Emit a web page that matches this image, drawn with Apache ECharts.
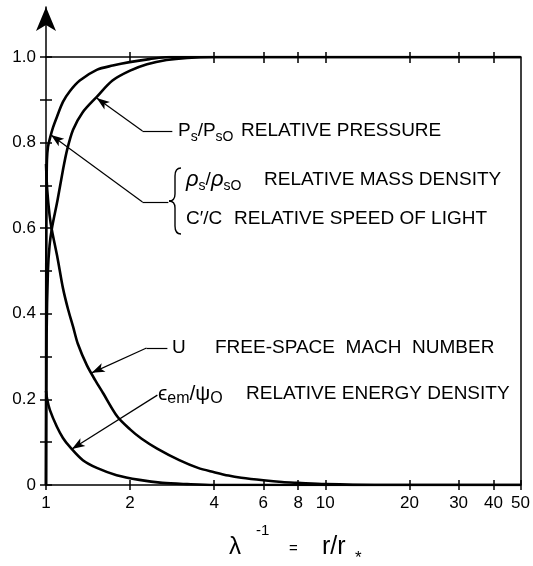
<!DOCTYPE html>
<html><head><meta charset="utf-8">
<script src="https://cdn.jsdelivr.net/npm/echarts@6/dist/echarts.min.js"></script>
<style>html,body{margin:0;padding:0;background:#fff}#c{width:533px;height:566px}</style>
</head><body><div id="c"></div>
<script>
const FONT = '"Liberation Sans", Arial, Helvetica, sans-serif';

// axis ticks / labels
const xTickLabels = [1, 2, 4, 6, 8, 10, 20, 30, 40, 50];
const xTopTicks = [2, 4, 6, 8, 10, 20, 30, 40];
const yTickLabels = [0, 0.2, 0.4, 0.6, 0.8, 1.0];
const yTicks = [0, 0.1, 0.2, 0.3, 0.4, 0.5, 0.6, 0.7, 0.8, 0.9, 1.0];

// Ps/Ps0 relative pressure
const pressureX = [1, 1.005, 1.016, 1.03, 1.05, 1.1, 1.15, 1.19, 1.25, 1.35, 1.52, 1.73, 2.0, 2.3, 2.7, 3.2, 4, 50];
const pressureY = [0, 0.35, 0.5, 0.56, 0.6, 0.666, 0.736, 0.783, 0.83, 0.87, 0.907, 0.945, 0.968, 0.983, 0.993, 0.998, 1, 1];

// rho_s/rho_s0 relative mass density, C'/C
const densityX = [1, 1.002, 1.005, 1.008, 1.0165, 1.033, 1.059, 1.094, 1.15, 1.217, 1.321, 1.519, 1.733, 1.991, 2.346, 2.765, 50];
const densityY = [0, 0.5, 0.7, 0.76, 0.79, 0.81, 0.835, 0.86, 0.895, 0.92, 0.945, 0.97, 0.98, 0.988, 0.995, 1.0, 1.0];

// U free-space Mach number
const machX = [1, 1.01, 1.03, 1.05, 1.1, 1.15, 1.2, 1.25, 1.3, 1.4, 1.5, 1.6, 1.8, 2.0, 2.2, 2.5, 3, 3.5, 4, 4.5, 5, 6, 7, 8, 10, 15, 50];
const machY = [0.75, 0.69, 0.63, 0.595, 0.53, 0.46, 0.41, 0.37, 0.33, 0.28, 0.245, 0.215, 0.16, 0.13, 0.108, 0.085, 0.058, 0.04, 0.03, 0.022, 0.017, 0.011, 0.007, 0.005, 0.002, 0, 0];

// eps_em/psi0 relative energy density
const energyX = [1, 1.01, 1.033, 1.094, 1.15, 1.218, 1.355, 1.52, 1.79, 2.16, 2.61, 3.2, 4, 50];
const energyY = [0.22, 0.2, 0.175, 0.136, 0.11, 0.089, 0.058, 0.04, 0.023, 0.012, 0.005, 0.002, 0, 0];

// leader lines (data coordinates): tip first
const pressureLeader = [[1.518, 0.904], [2.215, 0.827], [2.833, 0.827]];
const densityLeader = [[1.042, 0.818], [2.215, 0.661], [2.742, 0.661]];
const machLeader = [[1.458, 0.262], [2.29, 0.32], [2.72, 0.32]];
const energyLeader = [[1.238, 0.084], [2.505, 0.21]];

function zip(xs, ys) { return xs.map((x, i) => [x, ys[i]]); }
function leader(pts) {
  const segs = [];
  for (let i = 0; i < pts.length - 1; i++) {
    segs.push([
      { coord: pts[i], symbol: i === 0 ? 'arrow' : 'none' },
      { coord: pts[i + 1], symbol: 'none' }
    ]);
  }
  return {
    silent: true, animation: false,
    symbolSize: [7, 13],
    lineStyle: { color: '#000', width: 1.2, type: 'solid' },
    label: { show: false },
    emphasis: { disabled: true },
    data: segs
  };
}
function curve(name, xs, ys, pts) {
  return {
    name, type: 'line', xAxisIndex: 0, yAxisIndex: 0,
    data: zip(xs, ys), showSymbol: false, smooth: 0.3,
    lineStyle: { color: '#000', width: 2.6 },
    itemStyle: { color: '#000' },
    markLine: leader(pts),
    z: 5
  };
}

const black = { color: '#000', width: 1.5 };
const chart = echarts.init(document.getElementById('c'));

const richBase = {
  m: { fontSize: 19, fontFamily: FONT, color: '#000', lineHeight: 26 },
  g: { fontSize: 21, fontFamily: FONT, color: '#000', lineHeight: 26 },
  mi: { fontSize: 22, fontFamily: FONT, color: '#000', lineHeight: 26, fontStyle: 'italic' },
  s: { fontSize: 14, fontFamily: FONT, color: '#000', lineHeight: 14, verticalAlign: 'bottom' },
  sb: { fontSize: 16, fontFamily: FONT, color: '#000', lineHeight: 16, verticalAlign: 'bottom' }
};
function txt(x, y, text, size) {
  return {
    type: 'text', x, y, z: 10,
    style: {
      text, rich: richBase, fill: '#000',
      font: (size || 19) + 'px ' + FONT,
      fontSize: size || 19, fontFamily: FONT,
      align: 'left', verticalAlign: 'middle',
      textAlign: 'left', textVerticalAlign: 'middle'
    }
  };
}
const ls = { stroke: '#000', lineWidth: 1.4, fill: null };

chart.setOption({
  animation: false,
  backgroundColor: '#fff',
  grid: [
    { left: 46, right: 10, top: 57, bottom: 81 },
    { left: 46, right: 10, top: 7, height: 50 }
  ],
  xAxis: [
    { gridIndex: 0, type: 'log', logBase: 10, min: 1, max: 50, position: 'bottom',
      axisLine: { show: true, onZero: false, lineStyle: black },
      axisTick: { show: true, customValues: xTickLabels, length: 5, lineStyle: black },
      axisLabel: { show: true, customValues: xTickLabels, color: '#000', fontSize: 17, fontFamily: FONT, margin: 10,
        formatter: v => String(Math.round(v)) },
      splitLine: { show: false }, minorTick: { show: false } },
    { gridIndex: 0, type: 'log', logBase: 10, min: 1, max: 50, position: 'bottom', offset: 0,
      axisLine: { show: false, onZero: false },
      axisTick: { show: true, inside: true, customValues: xTickLabels, length: 5, lineStyle: black },
      axisLabel: { show: false }, splitLine: { show: false } },
    { gridIndex: 0, type: 'log', logBase: 10, min: 1, max: 50, position: 'top', offset: 0,
      axisLine: { show: true, onZero: false, lineStyle: black },
      axisTick: { show: true, inside: true, customValues: xTopTicks, length: 6, lineStyle: black },
      axisLabel: { show: false }, splitLine: { show: false } },
    { gridIndex: 0, type: 'log', logBase: 10, min: 1, max: 50, position: 'top', offset: 0,
      axisLine: { show: false, onZero: false },
      axisTick: { show: true, inside: false, customValues: xTopTicks, length: 5, lineStyle: black },
      axisLabel: { show: false }, splitLine: { show: false } },
    { gridIndex: 1, type: 'log', min: 1, max: 50, show: false }
  ],
  yAxis: [
    { gridIndex: 0, type: 'value', min: 0, max: 1, position: 'left', offset: 0,
      axisLine: { show: true, onZero: false, lineStyle: black },
      axisTick: { show: true, customValues: yTicks, length: 6, lineStyle: black },
      axisLabel: { show: true, customValues: yTickLabels, color: '#000', fontSize: 17, fontFamily: FONT, margin: 10,
        formatter: v => (v === 0 ? '0' : v.toFixed(1)) },
      splitLine: { show: false } },
    { gridIndex: 0, type: 'value', min: 0, max: 1, position: 'left', offset: 0,
      axisLine: { show: false, onZero: false },
      axisTick: { show: true, inside: true, customValues: yTicks, length: 6, lineStyle: black },
      axisLabel: { show: false }, splitLine: { show: false } },
    { gridIndex: 0, type: 'value', min: 0, max: 1, position: 'right', offset: 0,
      axisLine: { show: true, onZero: false, lineStyle: black },
      axisTick: { show: false }, axisLabel: { show: false }, splitLine: { show: false } },
    { gridIndex: 1, type: 'value', min: 0, max: 1, position: 'left', offset: 0,
      axisLine: { show: true, onZero: false, lineStyle: black, symbol: ['none', 'arrow'], symbolSize: [15, 24] },
      axisTick: { show: false }, axisLabel: { show: false }, splitLine: { show: false } }
  ],
  series: [
    curve('Ps/Ps0 relative pressure', pressureX, pressureY, pressureLeader),
    curve('rho_s/rho_s0 relative mass density', densityX, densityY, densityLeader),
    curve('U free-space Mach number', machX, machY, machLeader),
    curve('eps_em/psi0 relative energy density', energyX, energyY, energyLeader)
  ],
  graphic: [
    txt(178, 131, '{m|P}{s|s}{m|/P}{s|sO}'),
    txt(241, 131, '{m|RELATIVE PRESSURE}'),
    txt(186, 180, '{mi|ρ}{s|s}{m|/}{mi|ρ}{s|sO}'),
    txt(264, 180, '{m|RELATIVE MASS DENSITY}'),
    txt(186, 219, '{m|C′/C}'),
    txt(234, 219, '{m|RELATIVE SPEED OF LIGHT}'),
    txt(172, 348, '{m|U}'),
    txt(215, 348, '{m|FREE-SPACE  MACH  NUMBER}'),
    txt(158, 394, '{g|ϵ}{sb|em}{g|/ψ}{sb|O}'),
    txt(246, 394, '{m|RELATIVE ENERGY DENSITY}'),
    // brace
    { type: 'bezierCurve', z: 10, shape: { x1: 181, y1: 168, x2: 175, y2: 176, cpx1: 175, cpy1: 168 }, style: ls },
    { type: 'line', z: 10, shape: { x1: 175, y1: 176, x2: 175, y2: 194 }, style: ls },
    { type: 'bezierCurve', z: 10, shape: { x1: 175, y1: 194, x2: 169, y2: 201, cpx1: 175, cpy1: 201 }, style: ls },
    { type: 'bezierCurve', z: 10, shape: { x1: 169, y1: 201, x2: 175, y2: 208, cpx1: 175, cpy1: 201 }, style: ls },
    { type: 'line', z: 10, shape: { x1: 175, y1: 208, x2: 175, y2: 226 }, style: ls },
    { type: 'bezierCurve', z: 10, shape: { x1: 175, y1: 226, x2: 181, y2: 234, cpx1: 175, cpy1: 234 }, style: ls },
    // axis title
    { type: 'text', x: 229, y: 547, z: 10, style: { text: 'λ', font: '24px ' + FONT, fill: '#000', verticalAlign: 'middle', textVerticalAlign: 'middle' } },
    { type: 'text', x: 256, y: 531, z: 10, style: { text: '-1', font: '15px ' + FONT, fill: '#000', verticalAlign: 'middle', textVerticalAlign: 'middle' } },
    { type: 'text', x: 289, y: 549, z: 10, style: { text: '=', font: '15px ' + FONT, fill: '#000', verticalAlign: 'middle', textVerticalAlign: 'middle' } },
    { type: 'text', x: 322, y: 547, z: 10, style: { text: 'r/r', font: '25px ' + FONT, fill: '#000', verticalAlign: 'middle', textVerticalAlign: 'middle' } },
    { type: 'text', x: 355, y: 558, z: 10, style: { text: '*', font: '17px ' + FONT, fill: '#000', verticalAlign: 'middle', textVerticalAlign: 'middle' } }
  ]
});
</script></body></html>
